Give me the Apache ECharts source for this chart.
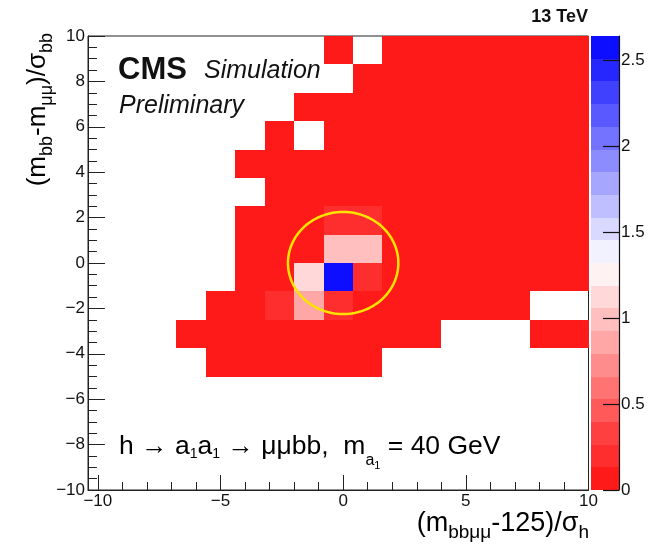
<!DOCTYPE html>
<html>
<head>
<meta charset="utf-8">
<script src="https://cdn.jsdelivr.net/npm/echarts@6/dist/echarts.min.js"></script>
<style>
  html, body { margin: 0; padding: 0; background: #ffffff; }
  #chart { width: 669px; height: 546px; }
</style>
</head>
<body>
<div id="chart"></div>
<script>
// ---- histogram binning ----
const xLow = -10.4;        // left edge of the first x bin
const xBinWidth = 1.2;     // 17 bins up to x = 10
const yHigh = 10;          // top edge of the first y row
const yBinHeight = 1.25;   // 16 rows down to y = -10

// bin contents, one row per y bin from the top (y = 10) to the bottom (y = -10),
// 17 columns from x = -10.4 to x = 10; 0 means an empty bin
const zRows = [
  [0, 0, 0, 0, 0, 0, 0, 0, 0.05, 0, 0.05, 0.05, 0.05, 0.05, 0.05, 0.05, 0.05],
  [0, 0, 0, 0, 0, 0, 0, 0, 0, 0.05, 0.05, 0.05, 0.05, 0.05, 0.05, 0.05, 0.05],
  [0, 0, 0, 0, 0, 0, 0, 0.05, 0.05, 0.05, 0.05, 0.05, 0.05, 0.05, 0.05, 0.05, 0.05],
  [0, 0, 0, 0, 0, 0, 0.05, 0, 0.05, 0.05, 0.05, 0.05, 0.05, 0.05, 0.05, 0.05, 0.05],
  [0, 0, 0, 0, 0, 0.05, 0.05, 0.05, 0.05, 0.05, 0.05, 0.05, 0.05, 0.05, 0.05, 0.05, 0.05],
  [0, 0, 0, 0, 0, 0, 0.05, 0.05, 0.05, 0.05, 0.05, 0.05, 0.05, 0.05, 0.05, 0.05, 0.05],
  [0, 0, 0, 0, 0, 0.05, 0.05, 0.05, 0.2, 0.2, 0.05, 0.05, 0.05, 0.05, 0.05, 0.05, 0.05],
  [0, 0, 0, 0, 0, 0.05, 0.05, 0.05, 1.0, 1.0, 0.05, 0.05, 0.05, 0.05, 0.05, 0.05, 0.05],
  [0, 0, 0, 0, 0, 0.05, 0.05, 1.12, 2.64, 0.2, 0.05, 0.05, 0.05, 0.05, 0.05, 0.05, 0.05],
  [0, 0, 0, 0, 0.05, 0.05, 0.2, 0.85, 0.2, 0.05, 0.05, 0.05, 0.05, 0.05, 0.05, 0, 0],
  [0, 0, 0, 0.05, 0.05, 0.05, 0.05, 0.05, 0.05, 0.05, 0.05, 0.05, 0, 0, 0, 0.05, 0.05],
  [0, 0, 0, 0, 0.05, 0.05, 0.05, 0.05, 0.05, 0.05, 0, 0, 0, 0, 0, 0, 0],
  [0, 0, 0, 0, 0, 0, 0, 0, 0, 0, 0, 0, 0, 0, 0, 0, 0],
  [0, 0, 0, 0, 0, 0, 0, 0, 0, 0, 0, 0, 0, 0, 0, 0, 0],
  [0, 0, 0, 0, 0, 0, 0, 0, 0, 0, 0, 0, 0, 0, 0, 0, 0],
  [0, 0, 0, 0, 0, 0, 0, 0, 0, 0, 0, 0, 0, 0, 0, 0, 0]
];

// ---- colour scale ----
const zMax = 2.643;
const nLevels = 20;
const palette = [
  '#ff1a1a', '#ff2e2e', '#ff4040', '#ff5959', '#ff7373',
  '#ff8c8c', '#ffa6a6', '#ffbfbf', '#ffd9d9', '#fff2f2',
  '#f2f2ff', '#d9d9ff', '#bfbfff', '#a6a6ff', '#8c8cff',
  '#7373ff', '#5959ff', '#4040ff', '#2626ff', '#0d0dff'
];
const zTickValues = [0, 0.5, 1, 1.5, 2, 2.5];

// ---- axes ----
const xMajorTicks = [-10, -5, 0, 5, 10];
const xMinorTicks = [-10, -9, -8, -7, -6, -5, -4, -3, -2, -1, 0, 1, 2, 3, 4, 5, 6, 7, 8, 9, 10];

// ---- signal region ring ----
const ringCenter = [0, 0];
const ringRadius = 2.25;

const FONT = '"Liberation Sans", Arial, Helvetica, sans-serif';
const INK = '#111111';
const fmtNum = v => String(v).replace('-', '\u2212');
const levelOf = z => Math.min(nLevels - 1, Math.floor(z / zMax * nLevels));

const cells = [];
zRows.forEach((row, j) => {
  row.forEach((z, i) => {
    if (z > 0) {
      cells.push([
        xLow + i * xBinWidth, xLow + (i + 1) * xBinWidth,
        yHigh - (j + 1) * yBinHeight, yHigh - j * yBinHeight, z
      ]);
    }
  });
});

const levels = palette.map((c, k) => [k * zMax / nLevels, (k + 1) * zMax / nLevels, k]);

const chart = echarts.init(document.getElementById('chart'), null, { renderer: 'canvas' });

const sub = (size, drop) => ({ fontSize: size, lineHeight: size, padding: [drop * 2, 0, 0, 0], fontFamily: FONT, color: INK });

chart.setOption({
  animation: false,
  backgroundColor: '#ffffff',
  textStyle: { fontFamily: FONT, color: INK },
  grid: [
    { left: 88, top: 36, width: 500.5, height: 454, show: true, borderColor: '#222', borderWidth: 1, backgroundColor: 'transparent' },
    { left: 591, top: 36, width: 28, height: 454 }
  ],
  xAxis: [
    {
      type: 'value', gridIndex: 0, min: xLow, max: 10, position: 'bottom',
      axisLine: { show: true, onZero: false, lineStyle: { color: '#222', width: 1 } },
      axisTick: { show: true, inside: true, length: 15, customValues: xMajorTicks, lineStyle: { color: '#222', width: 1 } },
      axisLabel: { show: true, customValues: xMajorTicks, formatter: fmtNum, fontSize: 17, color: INK, margin: 3, fontFamily: FONT },
      splitLine: { show: false }
    },
    {
      type: 'value', gridIndex: 0, min: xLow, max: 10, position: 'bottom',
      axisLine: { show: false, onZero: false },
      axisTick: { show: true, inside: true, length: 8, customValues: xMinorTicks, lineStyle: { color: '#222', width: 1 } },
      axisLabel: { show: false },
      splitLine: { show: false }
    },
    {
      type: 'value', gridIndex: 1, min: 0, max: 1, show: false
    }
  ],
  yAxis: [
    {
      type: 'value', gridIndex: 0, min: -10, max: 10, interval: 2, position: 'left',
      axisLine: { show: true, onZero: false, lineStyle: { color: '#222', width: 1 } },
      axisTick: { show: true, inside: true, length: 17, lineStyle: { color: '#222', width: 1 } },
      minorTick: { show: true, splitNumber: 4, length: 9, lineStyle: { color: '#222', width: 1 } },
      axisLabel: { show: true, formatter: fmtNum, fontSize: 17, color: INK, margin: 3, fontFamily: FONT },
      splitLine: { show: false }
    },
    {
      type: 'value', gridIndex: 1, min: 0, max: zMax, position: 'right', z: 10,
      axisLine: { show: true, onZero: false, lineStyle: { color: '#111', width: 1.2 } },
      axisTick: { show: true, inside: true, length: 16, customValues: zTickValues, lineStyle: { color: '#111', width: 1.2 } },
      axisLabel: { show: true, customValues: zTickValues, formatter: v => String(v), fontSize: 17, color: INK, margin: 2, fontFamily: FONT },
      splitLine: { show: false }
    }
  ],
  series: [
    {
      // 2D histogram bins
      type: 'custom', xAxisIndex: 0, yAxisIndex: 0, clip: true, z: 3,
      dimensions: ['x0', 'x1', 'y0', 'y1', 'z'],
      encode: { x: [0, 1], y: [2, 3] },
      data: cells,
      renderItem: (params, api) => {
        const a = api.coord([api.value(0), api.value(3)]);
        const b = api.coord([api.value(1), api.value(2)]);
        const x0 = Math.round(a[0]), y0 = Math.round(a[1]);
        const x1 = Math.round(b[0]), y1 = Math.round(b[1]);
        return {
          type: 'rect',
          shape: { x: x0, y: y0, width: x1 - x0, height: y1 - y0 },
          style: { fill: palette[levelOf(api.value(4))] }
        };
      }
    },
    {
      // signal region ring
      type: 'custom', xAxisIndex: 0, yAxisIndex: 0, z: 5,
      encode: { x: 0, y: 1 },
      data: [[ringCenter[0], ringCenter[1], ringRadius]],
      renderItem: (params, api) => {
        const cx = api.value(0), cy = api.value(1), r = api.value(2);
        const pts = [];
        for (let k = 0; k <= 120; k++) {
          const t = k / 120 * Math.PI * 2;
          pts.push(api.coord([cx + r * Math.cos(t), cy + r * Math.sin(t)]));
        }
        return {
          type: 'polyline',
          shape: { points: pts },
          style: { stroke: '#ffe400', lineWidth: 2.5, fill: null }
        };
      }
    },
    {
      // colour bar
      type: 'custom', xAxisIndex: 2, yAxisIndex: 1, z: 3,
      encode: { y: [0, 1] },
      data: levels,
      renderItem: (params, api) => {
        const a = api.coord([0, api.value(1)]);
        const b = api.coord([1, api.value(0)]);
        const y0 = Math.round(a[1]), y1 = Math.round(b[1]);
        return {
          type: 'rect',
          shape: { x: a[0], y: y0, width: b[0] - a[0], height: y1 - y0 },
          style: { fill: palette[api.value(2)] }
        };
      }
    }
  ],
  graphic: [
    { type: 'text', x: 118, y: 70.7, z: 10,
      style: { text: 'CMS', font: 'bold 31px ' + FONT, fill: INK, align: 'left', verticalAlign: 'middle' } },
    { type: 'text', x: 204, y: 71, z: 10,
      style: { text: 'Simulation', font: 'italic 25px ' + FONT, fill: INK, align: 'left', verticalAlign: 'middle' } },
    { type: 'text', x: 119, y: 106.5, z: 10,
      style: { text: 'Preliminary', font: 'italic 25px ' + FONT, fill: INK, align: 'left', verticalAlign: 'middle' } },
    { type: 'text', x: 588, y: 17.5, z: 10,
      style: { text: '13 TeV', font: 'bold 18px ' + FONT, fill: INK, align: 'right', verticalAlign: 'middle' } },
    {
      type: 'text', x: 119, y: 446.5, z: 10,
      style: {
        text: '{t|h \u2192 a}{s|1}{t|a}{s|1}{t| \u2192 \u03bc\u03bcbb,  m}{sa|a}{s1|1}{t| = 40 GeV}',
        align: 'left', verticalAlign: 'middle',
        rich: {
          t: { fontSize: 26.5, lineHeight: 64, fontFamily: FONT, color: INK },
          s: sub(14, 8),
          sa: sub(16, 14),
          s1: sub(11, 19)
        }
      }
    },
    {
      type: 'text', x: 589, y: 524, z: 10,
      style: {
        text: '{t|(m}{s|bb\u03bc\u03bc}{t|-125)/\u03c3}{s|h}',
        align: 'right', verticalAlign: 'middle',
        rich: {
          t: { fontSize: 27, lineHeight: 56, fontFamily: FONT, color: INK },
          s: sub(19, 9)
        }
      }
    },
    {
      type: 'text', x: 38, y: 33, rotation: Math.PI / 2, z: 10,
      style: {
        text: '{t|(m}{s|bb}{t|-m}{s|\u03bc\u03bc}{t|)/\u03c3}{s|bb}',
        align: 'right', verticalAlign: 'middle',
        rich: {
          t: { fontSize: 26, lineHeight: 56, fontFamily: FONT, color: INK },
          s: sub(18, 9)
        }
      }
    }
  ]
});
</script>
</body>
</html>
